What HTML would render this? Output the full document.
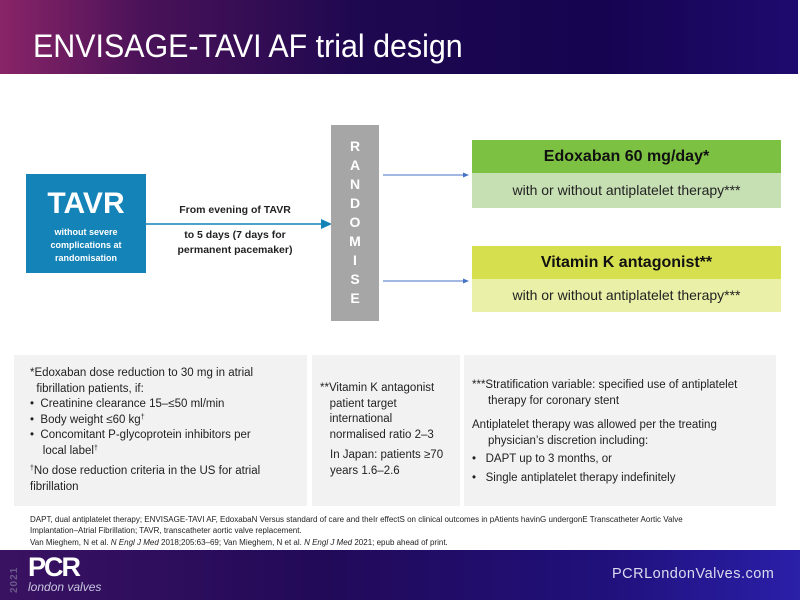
<!DOCTYPE html>
<html><head><meta charset="utf-8"><style>
*{margin:0;padding:0;box-sizing:border-box}
body{width:800px;height:600px;position:relative;background:#fff;font-family:"Liberation Sans",sans-serif;overflow:hidden;color:#222}
.a{position:absolute}
sup{font-size:7px;line-height:0;vertical-align:4px}
.hdr{left:0;top:0;width:798px;height:74px;background:linear-gradient(90deg,#8a2468 0%,#4a1258 18%,#1e0850 45%,#160450 75%,#1e0a6e 100%)}
.title{left:33px;top:28px;color:#fff;font-size:32px;white-space:nowrap;transform:scaleX(0.95);transform-origin:left top}
.tavr{left:26px;top:174px;width:120px;height:99px;background:#1483b8;color:#fff;text-align:center;font-weight:bold}
.rand{left:331px;top:125px;width:48px;height:196px;background:#a6a6a6;color:#fff;font-weight:bold;font-size:14px;text-align:center}
.gb{background:#f2f2f2;top:355px;height:151px;font-size:11.5px;line-height:15.5px;color:#222}
.ft{left:30px;font-size:8px;color:#222;white-space:nowrap}
.footer{left:0;top:550px;width:800px;height:50px;background:linear-gradient(90deg,#3a1262 0%,#220a58 40%,#20107a 75%,#2a1fa8 100%)}
</style></head><body>
<div class="a hdr"></div>
<div class="a title">ENVISAGE-TAVI AF trial design</div>

<div class="a tavr"><div style="font-size:30px;margin-top:14px;line-height:32px">TAVR</div><div style="font-size:9px;line-height:13px;margin-top:6px">without severe<br>complications at<br>randomisation</div></div>

<svg class="a" style="left:0;top:0" width="800" height="600">
<line x1="146" y1="224" x2="322" y2="224" stroke="#1483b8" stroke-width="1.5"/>
<polygon points="321,219 332,224 321,229" fill="#1483b8"/>
<line x1="383" y1="175" x2="464" y2="175" stroke="#4472c4" stroke-width="1"/>
<polygon points="463,172.5 469,175 463,177.5" fill="#4472c4"/>
<line x1="383" y1="281" x2="464" y2="281" stroke="#4472c4" stroke-width="1"/>
<polygon points="463,278.5 469,281 463,283.5" fill="#4472c4"/>
</svg>
<div class="a" style="left:150px;top:204px;width:170px;text-align:center;font-size:10.5px;font-weight:bold;color:#222">From evening of TAVR</div>
<div class="a" style="left:150px;top:228px;width:170px;text-align:center;font-size:10.5px;font-weight:bold;line-height:15px;color:#222">to 5 days (7 days for<br>permanent pacemaker)</div>

<div class="a rand"><div style="margin-top:12px;line-height:19px">R<br>A<br>N<br>D<br>O<br>M<br>I<br>S<br>E</div></div>

<div class="a" style="left:472px;top:140px;width:309px;height:33px;background:#7cc142;text-align:center;font-weight:bold;font-size:16px;line-height:33px;color:#111">Edoxaban 60 mg/day*</div>
<div class="a" style="left:472px;top:173px;width:309px;height:35px;background:#c6e0b4;text-align:center;font-size:14px;line-height:35px;color:#222">with or without antiplatelet therapy***</div>
<div class="a" style="left:472px;top:246px;width:309px;height:33px;background:#d6e04e;text-align:center;font-weight:bold;font-size:16px;line-height:33px;color:#111">Vitamin K antagonist**</div>
<div class="a" style="left:472px;top:279px;width:309px;height:33px;background:#ebf0a8;text-align:center;font-size:14px;line-height:33px;color:#222">with or without antiplatelet therapy***</div>

<div class="a gb" style="left:14px;width:293px;padding:11px 0 0 16px">
<div>*Edoxaban dose reduction to 30 mg in atrial<br>&nbsp;&nbsp;fibrillation patients, if:</div>
<div>•&nbsp; Creatinine clearance 15–≤50 ml/min</div>
<div>•&nbsp; Body weight ≤60 kg<sup>†</sup></div>
<div>•&nbsp; Concomitant P-glycoprotein inhibitors per<br>&nbsp;&nbsp;&nbsp;&nbsp;local label<sup>†</sup></div>
<div style="margin-top:5px"><sup>†</sup>No dose reduction criteria in the US for atrial<br>fibrillation</div>
</div>
<div class="a gb" style="left:312px;width:148px;padding:26px 0 0 8px">
<div>**Vitamin K antagonist<br>&nbsp;&nbsp;&nbsp;patient target<br>&nbsp;&nbsp;&nbsp;international<br>&nbsp;&nbsp;&nbsp;normalised ratio 2–3</div>
<div style="margin-top:5px;padding-left:10px">In Japan: patients ≥70<br>years 1.6–2.6</div>
</div>
<div class="a gb" style="left:464px;width:312px;padding:23px 0 0 8px">
<div>***Stratification variable: specified use of antiplatelet<br>&nbsp;&nbsp;&nbsp;&nbsp;&nbsp;therapy for coronary stent</div>
<div style="margin-top:9px">Antiplatelet therapy was allowed per the treating<br>&nbsp;&nbsp;&nbsp;&nbsp;&nbsp;physician’s discretion including:</div>
<div style="margin-top:3px">•&nbsp;&nbsp; DAPT up to 3 months, or</div>
<div style="margin-top:3px">•&nbsp;&nbsp; Single antiplatelet therapy indefinitely</div>
</div>

<div class="a ft" style="top:515px">DAPT, dual antiplatelet therapy; ENVISAGE-TAVI AF, EdoxabaN Versus standard of care and theIr effectS on clinical outcomes in pAtients havinG undergonE Transcatheter Aortic Valve</div>
<div class="a ft" style="top:526px">Implantation–Atrial Fibrillation; TAVR, transcatheter aortic valve replacement.</div>
<div class="a ft" style="top:538px">Van Mieghem, N et al. <i>N Engl J Med</i> 2018;205:63–69; Van Mieghem, N et al. <i>N Engl J Med</i> 2021; epub ahead of print.</div>

<div class="a footer"></div>
<div class="a" style="left:9px;color:#6a5a8a;font-size:10px;font-weight:bold;transform:rotate(-90deg);transform-origin:left top;top:593px;letter-spacing:1px">2021</div>
<div class="a" style="left:28px;top:552px;color:#fff;font-size:27px;font-weight:bold;letter-spacing:-2px">PCR</div>
<div class="a" style="left:28px;top:580px;color:#c8c8e0;font-size:12px;font-style:italic">london valves</div>
<div class="a" style="left:612px;top:566px;color:#dcdcf0;font-size:14.5px;letter-spacing:0.5px">PCRLondonValves.com</div>
</body></html>
